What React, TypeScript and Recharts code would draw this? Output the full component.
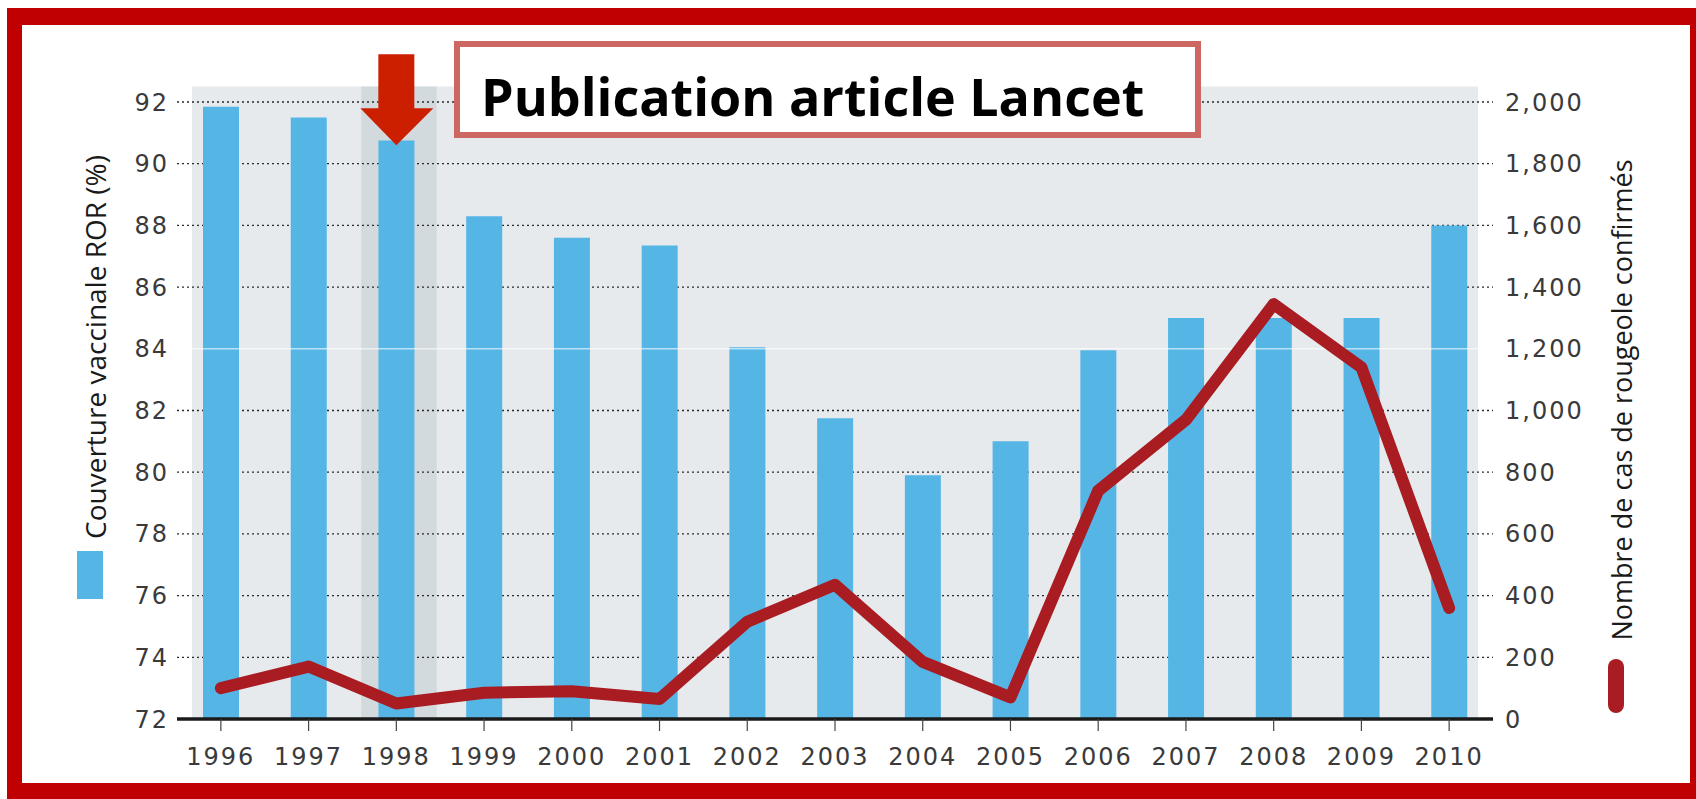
import React from 'react';
import {
  ComposedChart,
  Bar,
  Line,
  XAxis,
  YAxis,
  CartesianGrid,
  ReferenceArea,
  ReferenceLine,
  ReferenceDot,
} from 'recharts';

const years = ['1996', '1997', '1998', '1999', '2000', '2001', '2002', '2003', '2004', '2005', '2006', '2007', '2008', '2009', '2010'];
const coverage = [91.85, 91.5, 90.75, 88.3, 87.6, 87.35, 84.05, 81.75, 79.9, 81.0, 83.95, 85.0, 85.0, 85.0, 88.0];
const cases = [100, 170, 50, 85, 90, 65, 315, 435, 185, 70, 740, 970, 1345, 1140, 360];

const leftTicks = [72, 74, 76, 78, 80, 82, 84, 86, 88, 90, 92];
const rightTicks = [0, 200, 400, 600, 800, 1000, 1200, 1400, 1600, 1800, 2000];

const rows = years.map((year, i) => ({ year, yearNum: Number(year), coverage: coverage[i], cases: cases[i] }));

const RED_FRAME = '#c00000';
const BLUE = '#55b6e6';
const LINE_RED = '#a91c22';

const tickStyle = { fill: '#3a3a3a', fontSize: 24, fontFamily: 'DejaVu Sans', letterSpacing: 2 };

const ArrowShape = (props: any) => {
  const { cx, cy } = props;
  if (cx == null || cy == null) return null;
  const pts = [
    [cx - 18, cy - 91],
    [cx + 18, cy - 91],
    [cx + 18, cy - 37],
    [cx + 37, cy - 37],
    [cx, cy],
    [cx - 36, cy - 37],
    [cx - 18, cy - 37],
  ]
    .map((p) => p.join(','))
    .join(' ');
  return <polygon points={pts} fill="#cc1f00" />;
};

export default function App() {
  return (
    <div style={{ position: 'absolute', left: 0, top: 0, width: 1696, height: 799, background: '#fff', overflow: 'hidden' }}>
      <ComposedChart
        width={1696}
        height={799}
        data={rows}
        margin={{ top: 102, right: 0, bottom: 0, left: 0 }}
        style={{ position: 'absolute', left: 0, top: 0 }}
      >
        <XAxis
          dataKey="year"
          height={80}
          interval={0}
          tickSize={12}
          tickMargin={17}
          axisLine={{ stroke: '#1a1a1a', strokeWidth: 3.5 }}
          tickLine={{ stroke: '#444', strokeWidth: 1.2 }}
          tick={tickStyle}
        />
        <XAxis xAxisId="n" dataKey="yearNum" type="number" domain={[1995.5, 2010.5]} allowDataOverflow hide />
        <YAxis
          yAxisId="left"
          orientation="left"
          width={177}
          domain={[72, 92]}
          ticks={leftTicks}
          interval={0}
          allowDataOverflow
          axisLine={false}
          tickLine={false}
          tickSize={6}
          tickMargin={2}
          tick={tickStyle}
        />
        <YAxis
          yAxisId="right"
          orientation="right"
          width={203}
          domain={[0, 2000]}
          ticks={rightTicks}
          interval={0}
          allowDataOverflow
          axisLine={false}
          tickLine={false}
          tickSize={6}
          tickMargin={6}
          tick={{ ...tickStyle, textAnchor: 'start' }}
          tickFormatter={(v: number) => v.toLocaleString('en-US')}
        />
        {/* grey plot background and the darker 1998 band */}
        <ReferenceArea
          xAxisId="n"
          yAxisId="left"
          x1={1995.67}
          x2={2010.33}
          y1={72}
          y2={92.5}
          fill="#e6eaed"
          fillOpacity={1}
          stroke="none"
          ifOverflow="visible"
          zIndex={-150}
        />
        <ReferenceArea
          xAxisId="n"
          yAxisId="left"
          x1={1997.6}
          x2={1998.46}
          y1={72}
          y2={92.5}
          fill="#d3dade"
          fillOpacity={1}
          stroke="none"
          ifOverflow="visible"
          zIndex={-140}
        />
        <CartesianGrid
          yAxisId="left"
          vertical={false}
          horizontalValues={leftTicks.filter((v) => v !== 84)}
          stroke="#2a2a2a"
          strokeWidth={1.3}
          strokeDasharray="2 3"
        />
        <Bar yAxisId="left" dataKey="coverage" fill={BLUE} barSize={36} isAnimationActive={false} />
        <ReferenceLine yAxisId="left" y={84} stroke="#ffffff" strokeWidth={1.5} strokeOpacity={0.6} zIndex={350} />
        <Line
          yAxisId="right"
          dataKey="cases"
          type="linear"
          stroke={LINE_RED}
          strokeWidth={12}
          strokeLinejoin="round"
          strokeLinecap="round"
          dot={false}
          activeDot={false}
          isAnimationActive={false}
        />
        <ReferenceDot yAxisId="left" x="1998" y={90.6} ifOverflow="visible" shape={ArrowShape} zIndex={1000} />
      </ComposedChart>

      <svg width={1696} height={799} style={{ position: 'absolute', left: 0, top: 0, pointerEvents: 'none' }}>
        {/* red frame */}
        <path fillRule="evenodd" fill={RED_FRAME} d="M7,8 H1696 V799 H7 Z M22,25 V783 H1690 V25 Z" />
        {/* annotation box */}
        <rect x={457} y={44} width={741} height={91} fill="#fff" stroke="#cd6761" strokeWidth={6} />
        <text x={481} y={116} fontFamily="Open Sans" fontWeight={700} fontSize={52} fill="#000">
          Publication article Lancet
        </text>
        {/* axis titles */}
        <text
          x={106}
          y={347}
          transform="rotate(-90 106 347)"
          textAnchor="middle"
          fontFamily="Open Sans"
          fontSize={28}
          fill="#1a1a1a"
        >
          Couverture vaccinale ROR (%)
        </text>
        <text
          x={1632}
          y={400}
          transform="rotate(-90 1632 400)"
          textAnchor="middle"
          fontFamily="Open Sans"
          fontSize={27}
          fill="#1a1a1a"
        >
          Nombre de cas de rougeole confirmés
        </text>
        {/* legend swatches */}
        <rect x={77} y={551} width={26} height={48} fill={BLUE} />
        <line x1={1616} y1={667} x2={1616} y2={705} stroke={LINE_RED} strokeWidth={16} strokeLinecap="round" />
      </svg>
    </div>
  );
}
